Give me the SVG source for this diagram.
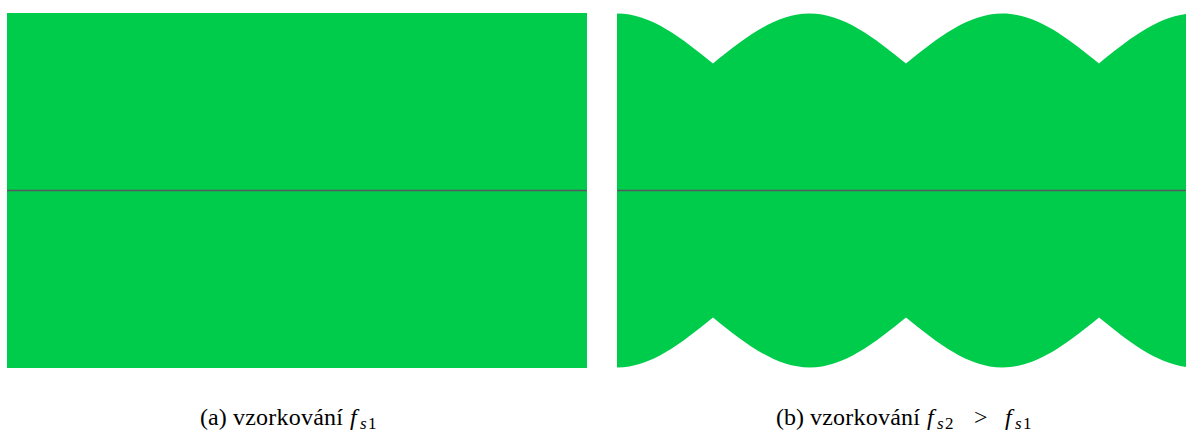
<svg xmlns="http://www.w3.org/2000/svg" width="1186" height="438" viewBox="0 0 1186 438">
<style>
.fill{fill:#00cc4b;stroke:none}
.axis{stroke:#555a60;stroke-width:1.5;fill:none}
.cap{font-family:"Liberation Serif","DejaVu Serif",serif;font-size:24px;fill:#000}
.it{font-style:italic}
.sub{font-size:17px}
</style>
<defs>
<clipPath id="clipB"><rect x="617" y="0" width="569" height="438"/></clipPath>
</defs>
<g id="panelA">
<rect class="fill" x="7" y="13" width="580" height="355"/>
</g>
<g id="panelB" clip-path="url(#clipB)">
<path class="fill" d="M617,13.5 C651,13.5 681.5,37.9 713,63.5 C744.5,37.9 775.3,13.5 809.5,13.5 C843.7,13.5 874.5,37.9 906,63.5 C937.5,37.9 968.3,13.5 1002.5,13.5 C1036.7,13.5 1067.5,37.9 1099,63.5 C1130.5,37.9 1161.3,13.5 1195.5,13.5 L1195.5,367.5 C1161.3,367.5 1130.5,343.1 1099,317.5 C1067.5,343.1 1036.7,367.5 1002.5,367.5 C968.3,367.5 937.5,343.1 906,317.5 C874.5,343.1 843.7,367.5 809.5,367.5 C775.3,367.5 744.5,343.1 713,317.5 C681.5,343.1 651,367.5 617,367.5 Z"/>
</g>
<g id="connectors">
<line class="axis" x1="7" y1="190.5" x2="587" y2="190.5"/>
<line class="axis" x1="617" y1="190.5" x2="1186" y2="190.5"/>
</g>
<g id="captionA">
<text class="cap" y="425"><tspan x="200">(a)</tspan><tspan x="233" textLength="110">vzorkování</tspan><tspan class="it" x="350">f</tspan><tspan class="sub it" x="360" dy="3.5">s</tspan><tspan class="sub" x="368">1</tspan></text>
</g>
<g id="captionB">
<text class="cap" y="425"><tspan x="776">(b)</tspan><tspan x="810" textLength="110">vzorkování</tspan><tspan class="it" x="927">f</tspan><tspan class="sub it" x="937" dy="3.5">s</tspan><tspan class="sub" x="945">2</tspan><tspan x="974" dy="-3.5">&gt;</tspan><tspan class="it" x="1005">f</tspan><tspan class="sub it" x="1015" dy="3.5">s</tspan><tspan class="sub" x="1023">1</tspan></text>
</g>
</svg>
